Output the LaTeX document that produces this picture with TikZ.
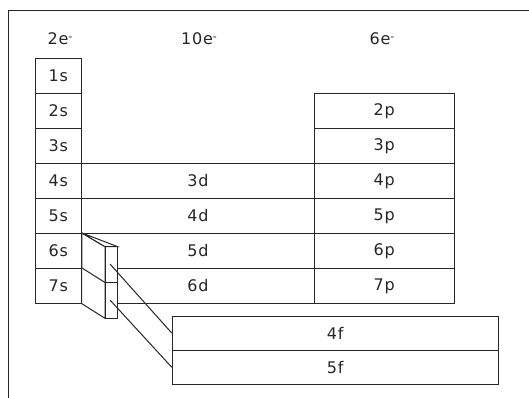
\documentclass[tikz,border=0pt]{standalone}
\usepackage{fontspec}
\setmainfont{DejaVu Sans}[LetterSpace=5]
\begin{document}
\begin{tikzpicture}[x=1pt,y=-1pt,
  lbl/.style={font=\fontsize{16}{18}\selectfont, text=black!85},
  cell/.style={lbl, draw=black!85, line width=1pt, fill=white, inner sep=0pt, minimum height=35pt},
  hdr/.style={lbl, inner sep=0pt},
  edge/.style={draw=black!85, line width=1pt}]
\useasboundingbox (0,0) rectangle (529,398);
\draw[edge] (8,398) -- (8,11) -- (529,11);
% headers
\node[hdr] (h2) at (60,39) {2e\raisebox{0.55ex}{\fontsize{11}{11}\selectfont -}};
\node[hdr] (h10) at (199,39) {10e\raisebox{0.55ex}{\fontsize{11}{11}\selectfont -}};
\node[hdr] (h6) at (382,39) {6e\raisebox{0.55ex}{\fontsize{11}{11}\selectfont -}};
% s block
\foreach \i in {1,...,7}
  \node[cell, minimum width=46.5pt] (s\i) at (58.25,{58.5+35*(\i-1)+17.5}) {\i s};
% p block
\foreach \i in {2,...,7}
  \node[cell, minimum width=139.7pt] (p\i) at (384.15,{58.5+35*(\i-1)+17.5}) {\i p};
% d block
\foreach \i/\n in {4/3,5/4,6/5,7/6}
  \node[cell, minimum width=232.8pt] (d\n) at (197.9,{58.5+35*(\i-1)+17.5}) {\n d};
% f block
\node[cell, minimum width=326pt, minimum height=34.2pt] (f4) at (335.3,333.1) {4f};
\node[cell, minimum width=326pt, minimum height=34.2pt] (f5) at (335.3,367.3) {5f};
% pulled-out f slab
\filldraw[edge, fill=white] (s6.north east) -- (105,246.7) -- (105,318.3) -- (81.5,303.5) -- cycle;
\draw[edge] (s7.north east) -- (105,282.5);
\filldraw[edge, fill=white] (105,246.7) rectangle (117.7,318.3);
\draw[edge] (105,282.5) -- (117.7,282.5);
\filldraw[edge, fill=white] (s6.north east) -- (117.7,246.7) -- (105,246.7) -- cycle;
\coordinate (a4) at (110,264);
\coordinate (a5) at (110,300);
\draw[edge] (a4) -- (f4.west);
\draw[edge] (a5) -- (f5.west);
\end{tikzpicture}
\end{document}
